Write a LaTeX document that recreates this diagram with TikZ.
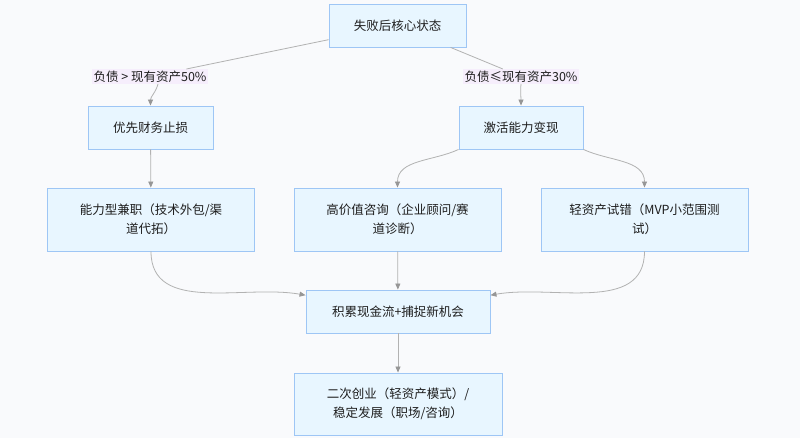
\documentclass[tikz,border=0pt]{standalone}
\usepackage{fontspec}
\setmainfont{Noto Sans CJK SC}
\usetikzlibrary{arrows.meta,positioning}
\definecolor{bgcol}{RGB}{249,250,252}
\definecolor{boxfill}{RGB}{232,246,255}
\definecolor{boxline}{RGB}{158,198,245}
\definecolor{labfill}{RGB}{246,238,252}
\definecolor{linkcol}{RGB}{178,178,178}
\definecolor{tipcol}{RGB}{150,150,150}
\definecolor{txtcol}{RGB}{30,30,30}

\tikzset{
  statebox/.style={draw=boxline,fill=boxfill,line width=0.9pt,inner sep=0pt,
    align=center,text=txtcol,font=\fontsize{12.5}{19}\selectfont},
  condlabel/.style={fill=labfill,inner sep=1.5pt,text=txtcol,
    font=\fontsize{12.5}{15}\selectfont},
  link/.style={draw=linkcol,line width=0.8pt},
  arrowlink/.style={link,-{Triangle[length=6pt,width=5pt,fill=tipcol,color=tipcol]}}
}

\begin{document}
\begin{tikzpicture}[x=1pt,y=-1pt]
\fill[bgcol] (0,0) rectangle (800,438);
\useasboundingbox (0,0) rectangle (800,438);

\node [statebox,minimum width=137pt,minimum height=43pt] (top) at (397.5,25.5) {失败后核心状态};

\node [condlabel] (l1) at (150,76.5) {负债 > 现有资产50\%};
\node [condlabel] (l2) at (521,76.5) {负债≤现有资产30\%};

\node [statebox,minimum width=125pt,minimum height=43pt] (fin) at (150.5,127.5) {优先财务止损};
\node [statebox,minimum width=124pt,minimum height=43pt] (act) at (521,127.5) {激活能力变现};

\begin{scope}[every node/.style={statebox,minimum width=207pt,minimum height=63pt}]
\def\paths{1/151/{能力型兼职（技术外包/渠\\道代拓）},2/397.5/{高价值咨询（企业顾问/赛\\道诊断）},3/644.5/{轻资产试错（MVP小范围测\\试）}}
\foreach \i / \x / \element in \paths
  \node (p\i) at (\x,219.5) {\element};
\end{scope}

\node [statebox,minimum width=184pt,minimum height=43pt] (cash) at (398,311.5) {积累现金流+捕捉新机会};
\node [statebox,minimum width=208pt,minimum height=62pt] (next) at (398,404) {二次创业（轻资产模式）/\\稳定发展（职场/咨询）};

% top split
\draw [link] (top) -- (l1);
\draw [link] (top) -- (l2);
\draw [arrowlink] ([xshift=8pt]l1.south) to[out=-105,in=90] (fin.north);
\draw [arrowlink] (l2.south) to[out=-95,in=90] (act.north);

% second level
\draw [arrowlink] (fin) -- (p1);
\draw [arrowlink] (act.south west) to[out=-155,in=90] (p2.north);
\draw [arrowlink] (act.south east) to[out=-25,in=90] (p3.north);

% merge
\draw [arrowlink] (p1.south) to[out=-90,in=170] (cash.170);
\draw [arrowlink] (p2) -- (cash);
\draw [arrowlink] (p3.south) to[out=-90,in=10] (cash.10);
\draw [arrowlink] (cash) -- (next);

\end{tikzpicture}
\end{document}
